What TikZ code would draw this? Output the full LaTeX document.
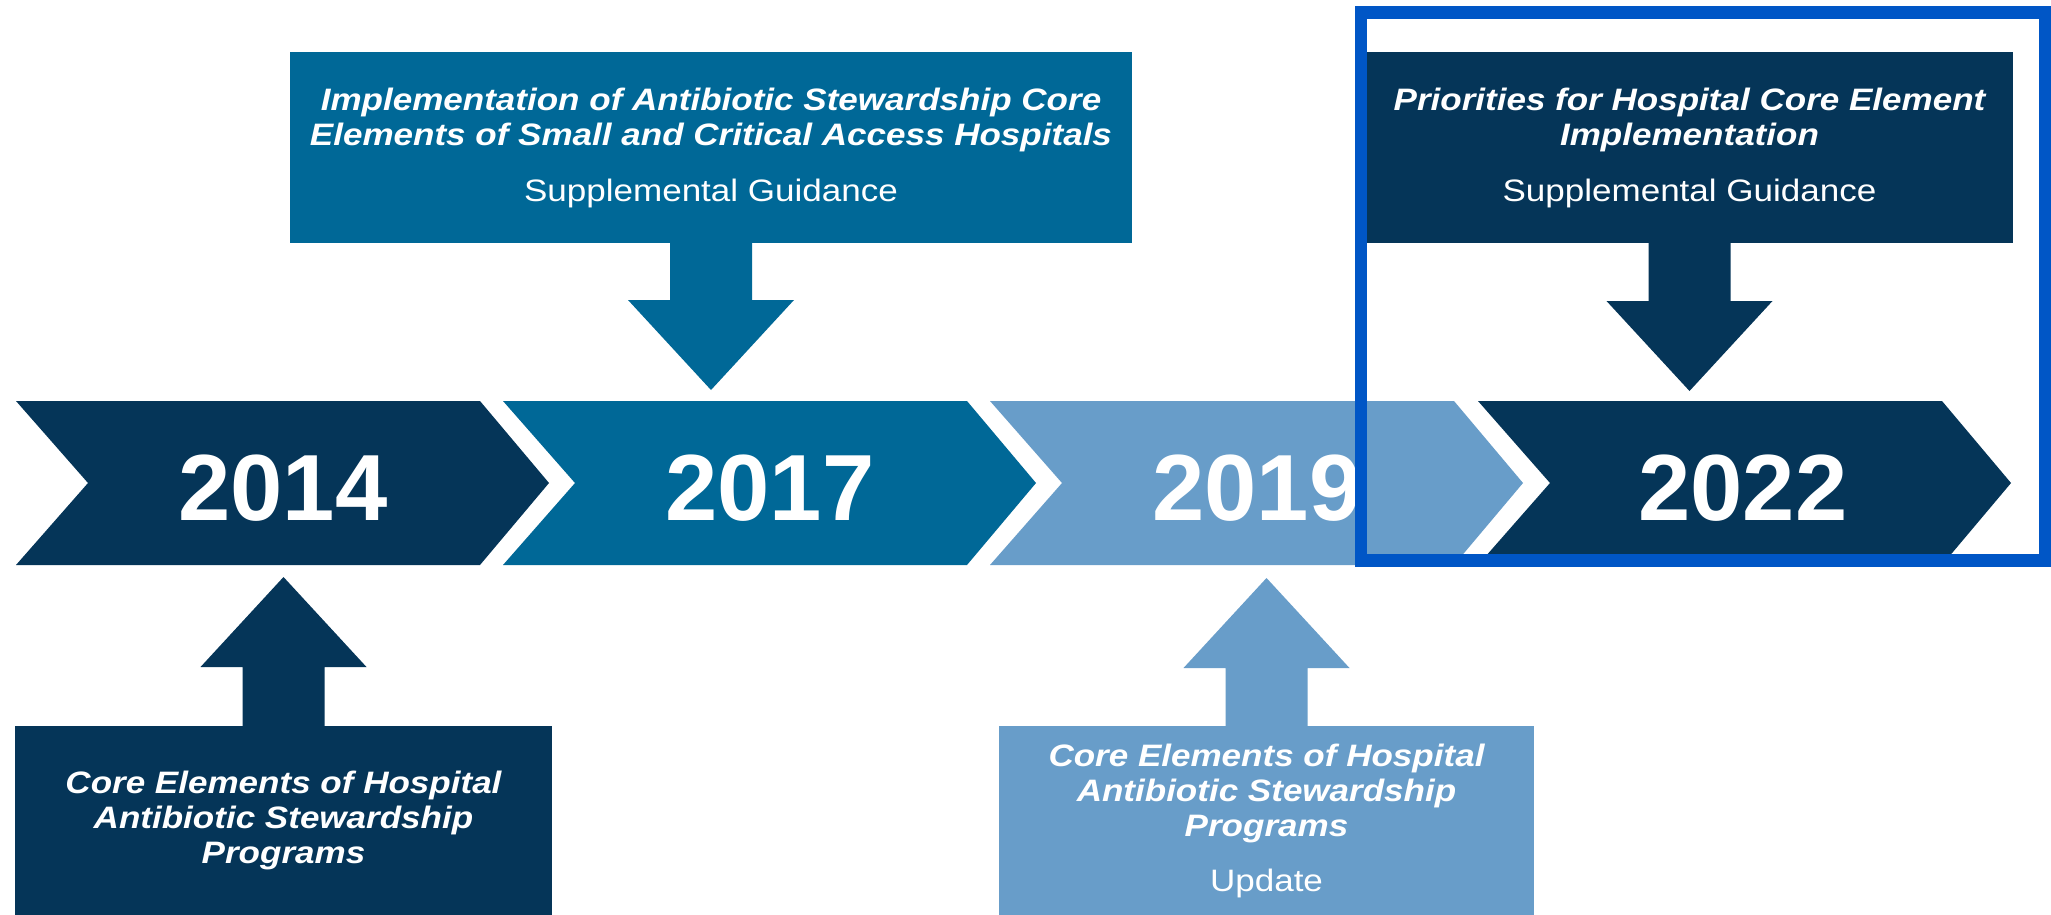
\documentclass[tikz,border=0pt]{standalone}
\usepackage{fontspec}
\setmainfont{Liberation Sans}
\newfontfamily\labfont[FakeStretch=1.13]{Liberation Sans}
\usetikzlibrary{calc}
\definecolor{navy}{HTML}{053558}
\definecolor{midblue}{HTML}{006897}
\definecolor{lightblue}{HTML}{689DC9}
\definecolor{framecol}{HTML}{0056C6}
\newcommand\ttlfont{\labfont\fontsize{31}{35}\selectfont\bfseries\itshape}
\newcommand\subfont{\mdseries\upshape}
\newcommand\yrfont{\fontsize{94}{94}\selectfont\bfseries}
% chevron: colour, left x
\newcommand\chev[2]{\fill[#1] (#2,401) -- (#2+464,401) -- (#2+533,483) -- (#2+464,565) -- (#2,565) -- (#2+72,483) -- cycle;}
% block arrow: colour, start point, tip, head-base offset
\newcommand\blockarr[4]{%
  \fill[#1] let \p1=(#2), \p2=(#3) in
    ({\x2-41pt},\y1) -- ({\x2-41pt},{\y2+#4}) -- ({\x2-83pt},{\y2+#4}) -- (\p2)
    -- ({\x2+83pt},{\y2+#4}) -- ({\x2+41pt},{\y2+#4}) -- ({\x2+41pt},\y1) -- cycle;}
\tikzset{
  box/.style={rectangle, inner sep=0pt, align=center, text=white, font=\ttlfont},
  yr/.style={anchor=base, text=white, font=\yrfont, inner sep=0pt},
}
\begin{document}
\begin{tikzpicture}[x=1pt,y=-1pt]
\fill[white] (0,0) rectangle (2051,915);
\useasboundingbox (0,0) rectangle (2051,915);
% timeline chevrons
\chev{navy}{16}
\chev{midblue}{503}
\chev{lightblue}{990}
\chev{navy}{1478}
\node[yr] (y14) at (283,520) {2014};
\node[yr] (y17) at (770,520) {2017};
\node[yr] (y19) at (1257,520) {2019};
\node[yr] (y22) at (1743,520) {2022};
% boxes
\node[box, fill=midblue, minimum width=842pt, minimum height=191pt] (t17) at (711,147.5)
  {Implementation of Antibiotic Stewardship Core\\
   Elements of Small and Critical Access Hospitals\\[21pt]
   \subfont Supplemental Guidance};
\node[box, fill=navy, minimum width=647pt, minimum height=191pt] (t22) at (1689.5,147.5)
  {Priorities for Hospital Core Element\\
   Implementation\\[21pt]
   \subfont Supplemental Guidance};
\node[box, fill=navy, minimum width=537pt, minimum height=189pt] (b14) at (283.5,820.5)
  {Core Elements of Hospital\\
   Antibiotic Stewardship\\
   Programs};
\node[box, fill=lightblue, minimum width=535pt, minimum height=189pt] (b19) at (1266.5,820.5)
  {Core Elements of Hospital\\
   Antibiotic Stewardship\\
   Programs\\[20pt]
   \subfont Update};
% arrow tips
\coordinate (tip17) at (t17.south |- 0,390);
\coordinate (tip22) at (t22.south |- 0,391);
\coordinate (tip14) at (b14.north |- 0,577);
\coordinate (tip19) at (b19.north |- 0,578);
\blockarr{midblue}{t17.south}{tip17}{90pt}
\blockarr{navy}{t22.south}{tip22}{90pt}
\blockarr{navy}{b14.north}{tip14}{(-90pt)}
\blockarr{lightblue}{b19.north}{tip19}{(-90pt)}
% highlight frame
\draw[framecol, line width=12.5pt] (1361,12.5) rectangle (2045,560.5);
\end{tikzpicture}
\end{document}
